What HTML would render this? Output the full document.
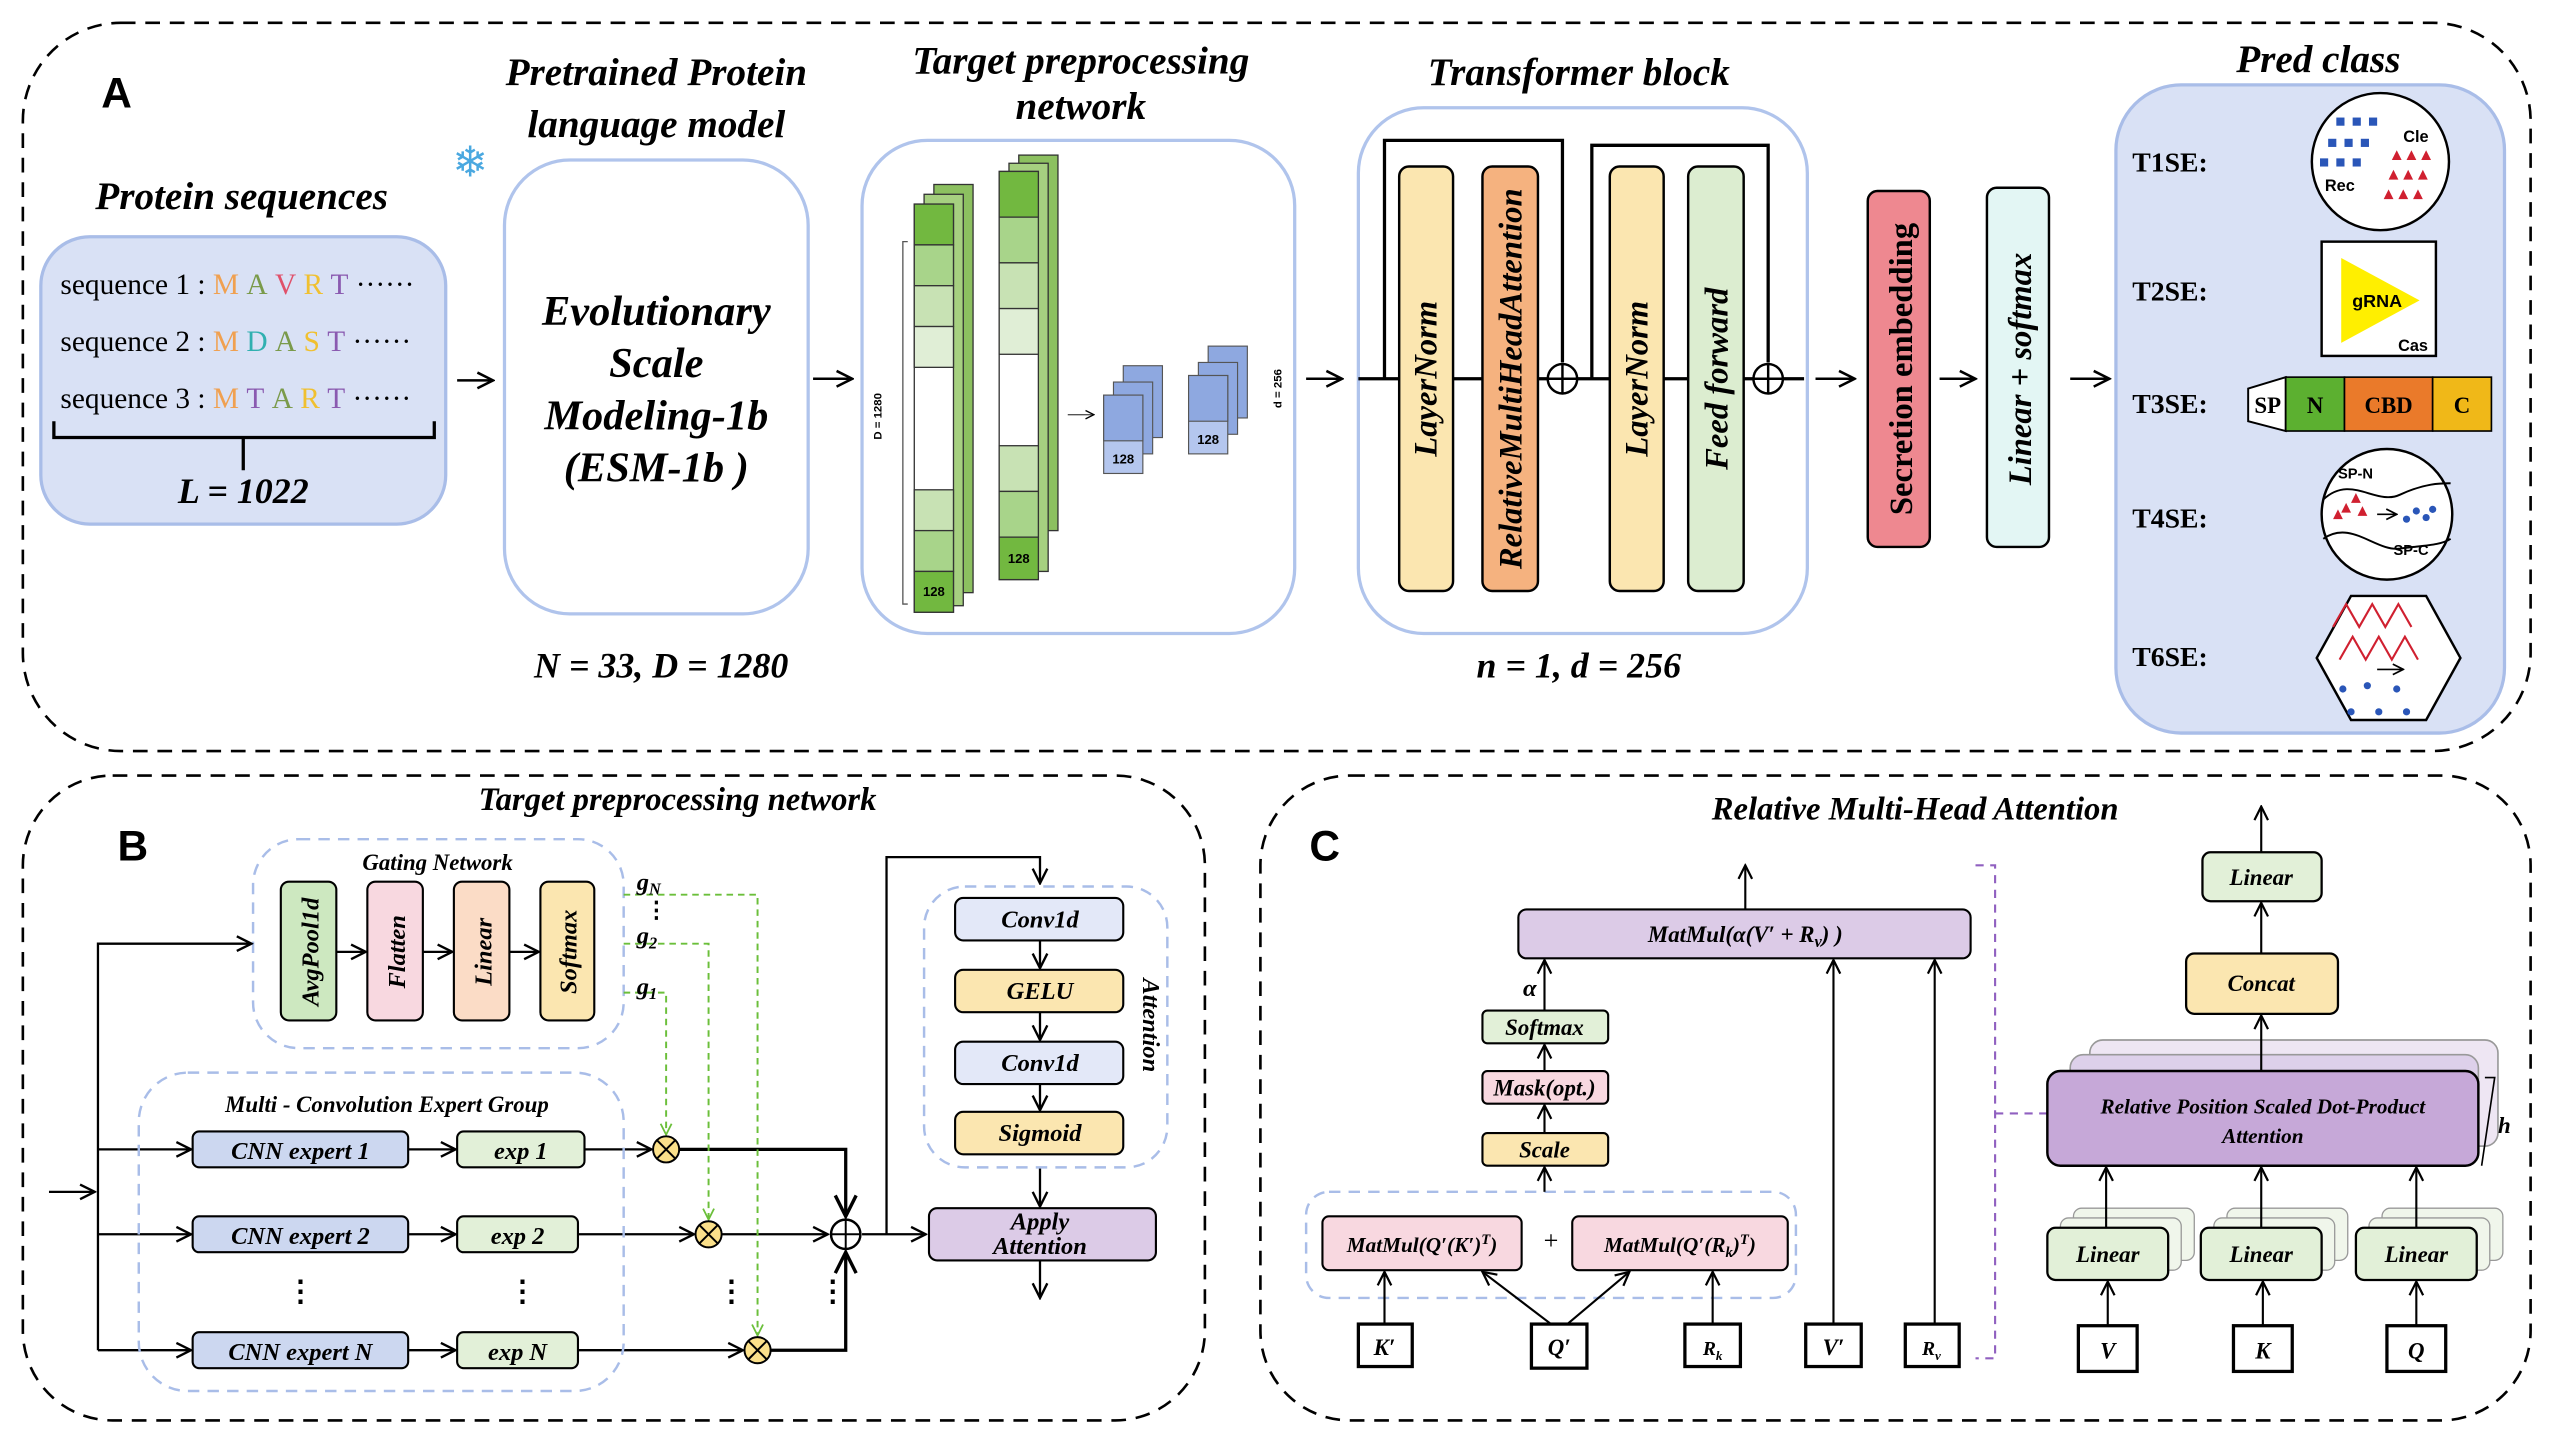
<!DOCTYPE html>
<html><head><meta charset="utf-8"><style>
html,body{margin:0;padding:0;background:#fff}
svg{display:block}
text{font-family:"Liberation Serif",serif}
.t{font-style:italic;font-weight:bold}
.s{font-family:"Liberation Sans",sans-serif}
</style></head><body>
<svg width="2560" height="1440" viewBox="0 0 1568 882" preserveAspectRatio="none" xmlns="http://www.w3.org/2000/svg">
<defs>
<marker id="ar" viewBox="0 0 10 10" refX="9" refY="5" markerWidth="8" markerHeight="8" orient="auto-start-reverse"><path d="M1,1 L9,5 L1,9" fill="none" stroke="#000" stroke-width="1.3"/></marker>
<marker id="ag" viewBox="0 0 10 10" refX="9" refY="5" markerWidth="7" markerHeight="7" orient="auto"><path d="M1,1 L9,5 L1,9" fill="none" stroke="#6bbf3a" stroke-width="1.3"/></marker>
</defs>
<g fill="none" stroke="#000" stroke-width="1.6" stroke-dasharray="9,6">
<rect x="14" y="14" width="1536" height="446" rx="60"/>
<rect x="14" y="475" width="724" height="395" rx="55"/>
<rect x="772" y="475" width="778" height="395" rx="55"/>
</g>
<!-- Panel A -->
<text x="62" y="66" class="s" font-weight="bold" font-size="26">A</text>
<text x="148" y="128" class="t" font-size="24" text-anchor="middle">Protein sequences</text>
<rect x="25" y="145" width="248" height="176" rx="30" fill="#d9e1f5" stroke="#a9bde8" stroke-width="2"/>
<g font-size="18">
<text x="37" y="180">sequence 1 : <tspan fill="#f0a050">M</tspan> <tspan fill="#7a9a4a">A</tspan> <tspan fill="#e0506a">V</tspan> <tspan fill="#f0c030">R</tspan> <tspan fill="#8a5ab0">T</tspan> ······</text>
<text x="37" y="215">sequence 2 : <tspan fill="#f0a050">M</tspan> <tspan fill="#30b0b0">D</tspan> <tspan fill="#7a9a4a">A</tspan> <tspan fill="#f0c030">S</tspan> <tspan fill="#8a5ab0">T</tspan> ······</text>
<text x="37" y="250">sequence 3 : <tspan fill="#f0a050">M</tspan> <tspan fill="#8a5ab0">T</tspan> <tspan fill="#7a9a4a">A</tspan> <tspan fill="#f0c030">R</tspan> <tspan fill="#8a5ab0">T</tspan> ······</text>
</g>
<path d="M33,258 V268 H266 V258 M149,268 V288" fill="none" stroke="#000" stroke-width="2"/>
<text x="149" y="308" class="t" font-size="22" text-anchor="middle">L = 1022</text>
<line x1="280" y1="233" x2="302" y2="233" stroke="#000" stroke-width="1.5" marker-end="url(#ar)"/>
<text x="288" y="108" font-size="26" fill="#4aa8e0" text-anchor="middle">❄</text>
<text x="402" y="52" class="t" font-size="24" text-anchor="middle">Pretrained Protein</text>
<text x="402" y="84" class="t" font-size="24" text-anchor="middle">language model</text>
<rect x="309" y="98" width="186" height="278" rx="40" fill="#fff" stroke="#b0c4ec" stroke-width="2"/>
<g class="t" font-size="26" text-anchor="middle"><text x="402" y="199">Evolutionary</text><text x="402" y="231">Scale</text><text x="402" y="263">Modeling-1b</text><text x="402" y="295">(ESM-1b )</text></g>
<text x="405" y="415" class="t" font-size="22" text-anchor="middle">N = 33, D = 1280</text>
<line x1="498" y1="232" x2="522" y2="232" stroke="#000" stroke-width="1.5" marker-end="url(#ar)"/>
<text x="662" y="45" class="t" font-size="24" text-anchor="middle">Target preprocessing</text>
<text x="662" y="73" class="t" font-size="24" text-anchor="middle">network</text>
<rect x="528" y="86" width="265" height="302" rx="40" fill="#fff" stroke="#b0c4ec" stroke-width="2"/>
<g stroke="#333" stroke-width="0.8">
<rect x="572" y="113" width="24" height="250" fill="#8cc060"/>
<rect x="566" y="119" width="24" height="252" fill="#a6d080"/>
<rect x="560" y="125" width="24" height="250" fill="#fff"/>
<rect x="560" y="125" width="24" height="25" fill="#72b840"/>
<rect x="560" y="150" width="24" height="25" fill="#a8d48a"/>
<rect x="560" y="175" width="24" height="25" fill="#c8e2b4"/>
<rect x="560" y="200" width="24" height="25" fill="#e0eed6"/>
<rect x="560" y="300" width="24" height="25" fill="#c8e2b4"/>
<rect x="560" y="325" width="24" height="25" fill="#a8d48a"/>
<rect x="560" y="350" width="24" height="25" fill="#72b840"/>
<rect x="624" y="95" width="24" height="230" fill="#8cc060"/>
<rect x="618" y="100" width="24" height="250" fill="#a6d080"/>
<rect x="612" y="105" width="24" height="250" fill="#fff"/>
<rect x="612" y="105" width="24" height="28" fill="#72b840"/>
<rect x="612" y="133" width="24" height="28" fill="#a8d48a"/>
<rect x="612" y="161" width="24" height="28" fill="#c8e2b4"/>
<rect x="612" y="189" width="24" height="28" fill="#e0eed6"/>
<rect x="612" y="273" width="24" height="28" fill="#c8e2b4"/>
<rect x="612" y="301" width="24" height="28" fill="#a8d48a"/>
<rect x="612" y="329" width="24" height="26" fill="#72b840"/>
</g>
<text x="572" y="365" class="s" font-size="8" font-weight="bold" text-anchor="middle">128</text>
<text x="624" y="345" class="s" font-size="8" font-weight="bold" text-anchor="middle">128</text>
<path d="M556,148 H553 V370 H556" fill="none" stroke="#555" stroke-width="0.8"/>
<text x="540" y="255" class="s" font-size="7" font-weight="bold" transform="rotate(-90 540 255)" text-anchor="middle">D = 1280</text>
<line x1="654" y1="254" x2="670" y2="254" stroke="#555" stroke-width="0.8" marker-end="url(#ar)"/>
<g stroke="#555" stroke-width="0.7">
<rect x="688" y="224" width="24" height="44" fill="#8ea8e0"/><rect x="682" y="234" width="24" height="44" fill="#8ea8e0"/><rect x="676" y="242" width="24" height="48" fill="#b4c6ee"/><rect x="676" y="242" width="24" height="28" fill="#8ea8e0"/>
<rect x="740" y="212" width="24" height="44" fill="#8ea8e0"/><rect x="734" y="222" width="24" height="44" fill="#8ea8e0"/><rect x="728" y="230" width="24" height="48" fill="#b4c6ee"/><rect x="728" y="230" width="24" height="28" fill="#8ea8e0"/>
</g>
<text x="688" y="284" class="s" font-size="8" font-weight="bold" text-anchor="middle">128</text>
<text x="740" y="272" class="s" font-size="8" font-weight="bold" text-anchor="middle">128</text>
<text x="785" y="238" class="s" font-size="7" font-weight="bold" transform="rotate(-90 785 238)" text-anchor="middle">d = 256</text>
<line x1="800" y1="232" x2="822" y2="232" stroke="#000" stroke-width="1.5" marker-end="url(#ar)"/>
<text x="967" y="52" class="t" font-size="24" text-anchor="middle">Transformer block</text>
<rect x="832" y="66" width="275" height="322" rx="40" fill="#fff" stroke="#b0c4ec" stroke-width="2"/>
<path d="M832,232 H1105 M848,232 V86 H957 V222 M975,232 V89 H1083 V222" fill="none" stroke="#000" stroke-width="2"/>
<g stroke="#000" stroke-width="1.5">
<rect x="857" y="102" width="33" height="260" rx="6" fill="#fbe6b0"/>
<rect x="908" y="102" width="34" height="260" rx="6" fill="#f5b27f"/>
<rect x="986" y="102" width="33" height="260" rx="6" fill="#fbe6b0"/>
<rect x="1034" y="102" width="34" height="260" rx="6" fill="#dcedd0"/>
<circle cx="957" cy="232" r="9" fill="#fff"/><path d="M948,232 H966 M957,223 V241"/>
<circle cx="1083" cy="232" r="9" fill="#fff"/><path d="M1074,232 H1092 M1083,223 V241"/>
</g>
<g class="t" font-size="20" text-anchor="middle">
<text transform="translate(880 232) rotate(-90)">LayerNorm</text>
<text transform="translate(932 232) rotate(-90)">RelativeMultiHeadAttention</text>
<text transform="translate(1009 232) rotate(-90)">LayerNorm</text>
<text transform="translate(1058 232) rotate(-90)">Feed forward</text>
</g>
<text x="967" y="415" class="t" font-size="22" text-anchor="middle">n = 1, d = 256</text>
<line x1="1112" y1="232" x2="1136" y2="232" stroke="#000" stroke-width="1.5" marker-end="url(#ar)"/>
<rect x="1144" y="117" width="38" height="218" rx="6" fill="#ee8890" stroke="#000" stroke-width="1.5"/>
<text transform="translate(1171 226) rotate(-90)" font-size="20" font-weight="bold" text-anchor="middle">Secretion embedding</text>
<line x1="1188" y1="232" x2="1210" y2="232" stroke="#000" stroke-width="1.5" marker-end="url(#ar)"/>
<rect x="1217" y="115" width="38" height="220" rx="6" fill="#e3f6f4" stroke="#000" stroke-width="1.5"/>
<text transform="translate(1244 226) rotate(-90)" class="t" font-size="20" text-anchor="middle">Linear + softmax</text>
<line x1="1268" y1="232" x2="1292" y2="232" stroke="#000" stroke-width="1.5" marker-end="url(#ar)"/>
<text x="1420" y="44" class="t" font-size="24" text-anchor="middle">Pred class</text>
<rect x="1296" y="52" width="238" height="397" rx="40" fill="#d9e1f5" stroke="#a9bde8" stroke-width="2"/>
<g font-size="17" font-weight="bold">
<text x="1306" y="105">T1SE:</text><text x="1306" y="184">T2SE:</text><text x="1306" y="253">T3SE:</text><text x="1306" y="323">T4SE:</text><text x="1306" y="408">T6SE:</text>
</g>
<circle cx="1458" cy="99" r="42" fill="#fff" stroke="#000" stroke-width="1.5"/>
<g fill="#2a56b8"><rect x="1431" y="72" width="5" height="5"/><rect x="1441" y="72" width="5" height="5"/><rect x="1451" y="72" width="5" height="5"/><rect x="1426" y="85" width="5" height="5"/><rect x="1436" y="85" width="5" height="5"/><rect x="1446" y="85" width="5" height="5"/><rect x="1421" y="97" width="5" height="5"/><rect x="1431" y="97" width="5" height="5"/><rect x="1441" y="97" width="5" height="5"/></g>
<g fill="#d02030"><path d="M1465,98 l3,-6 l3,6z M1474,98 l3,-6 l3,6z M1483,98 l3,-6 l3,6z M1463,110 l3,-6 l3,6z M1472,110 l3,-6 l3,6z M1481,110 l3,-6 l3,6z M1460,122 l3,-6 l3,6z M1469,122 l3,-6 l3,6z M1478,122 l3,-6 l3,6z"/></g>
<text x="1472" y="87" class="s" font-size="10" font-weight="bold">Cle</text><text x="1424" y="117" class="s" font-size="10" font-weight="bold">Rec</text>
<rect x="1422" y="148" width="70" height="70" fill="#fff" stroke="#000" stroke-width="1.5"/>
<path d="M1434,158 L1482,184 L1434,210 Z" fill="#ffef00"/>
<text x="1456" y="188" class="s" font-size="11" font-weight="bold" text-anchor="middle">gRNA</text>
<text x="1478" y="215" class="s" font-size="10" font-weight="bold" text-anchor="middle">Cas</text>
<path d="M1377,238 L1400,231 V264 L1377,258 Z" fill="#fff" stroke="#000" stroke-width="1.2"/>
<rect x="1400" y="231" width="36" height="33" fill="#5cb030" stroke="#000"/>
<rect x="1436" y="231" width="54" height="33" fill="#ea7a2a" stroke="#000"/>
<rect x="1490" y="231" width="36" height="33" fill="#f0b818" stroke="#000"/>
<g class="s" font-size="14" font-weight="bold" text-anchor="middle"><text x="1389" y="253">SP</text><text x="1418" y="253">N</text><text x="1463" y="253">CBD</text><text x="1508" y="253">C</text></g>
<circle cx="1462" cy="315" r="40" fill="#fff" stroke="#000" stroke-width="1.5"/>
<path d="M1423,306 C1440,290 1455,310 1470,303 C1485,296 1495,296 1501,296 M1423,330 C1440,318 1455,338 1470,336 C1485,334 1495,334 1501,330" fill="none" stroke="#000" stroke-width="1.2"/>
<text x="1432" y="293" class="s" font-size="9" font-weight="bold">SP-N</text><text x="1466" y="340" class="s" font-size="9" font-weight="bold">SP-C</text>
<path d="M1434,314 l3,-6 l3,6z M1440,308 l3,-6 l3,6z M1444,316 l3,-6 l3,6z M1429,318 l3,-6 l3,6z" fill="#d02030"/>
<line x1="1456" y1="315" x2="1468" y2="315" stroke="#000" marker-end="url(#ar)"/>
<g fill="#2a56b8"><circle cx="1474" cy="318" r="2.2"/><circle cx="1480" cy="313" r="2.2"/><circle cx="1486" cy="317" r="2.2"/><circle cx="1490" cy="312" r="2.2"/></g>
<path d="M1440,365 H1486 L1507,403 L1486,441 H1440 L1419,403 Z" fill="#fff" stroke="#000" stroke-width="1.5"/>
<path d="M1429,384 l8,-14 l8,14 l8,-14 l8,14 l8,-14 l8,14 M1433,404 l8,-14 l8,14 l8,-14 l8,14 l8,-14 l8,14" fill="none" stroke="#d02030" stroke-width="1.3"/>
<line x1="1456" y1="410" x2="1472" y2="410" stroke="#000" marker-end="url(#ar)"/>
<g fill="#2a56b8"><circle cx="1435" cy="422" r="2.2"/><circle cx="1450" cy="420" r="2.2"/><circle cx="1468" cy="422" r="2.2"/><circle cx="1440" cy="436" r="2.2"/><circle cx="1457" cy="436" r="2.2"/><circle cx="1474" cy="436" r="2.2"/></g>
<!-- Panel B -->
<text x="72" y="527" class="s" font-weight="bold" font-size="26">B</text>
<text x="415" y="496" class="t" font-size="20" text-anchor="middle">Target preprocessing network</text>
<rect x="155" y="514" width="227" height="128" rx="28" fill="none" stroke="#a9bde8" stroke-width="1.5" stroke-dasharray="7,5"/>
<text x="268" y="533" class="t" font-size="14" text-anchor="middle">Gating Network</text>
<g stroke="#000" stroke-width="1.3">
<rect x="172" y="540" width="34" height="85" rx="5" fill="#cde8c0"/>
<rect x="225" y="540" width="34" height="85" rx="5" fill="#f8d8e0"/>
<rect x="278" y="540" width="34" height="85" rx="5" fill="#fbdcc6"/>
<rect x="331" y="540" width="33" height="85" rx="5" fill="#fbe6b0"/>
</g>
<g class="t" font-size="15" text-anchor="middle">
<text transform="translate(195 583) rotate(-90)">AvgPool1d</text>
<text transform="translate(248 583) rotate(-90)">Flatten</text>
<text transform="translate(301 583) rotate(-90)">Linear</text>
<text transform="translate(353 583) rotate(-90)">Softmax</text>
</g>
<g stroke="#000" stroke-width="1.4" fill="none">
<line x1="206" y1="583" x2="224" y2="583" marker-end="url(#ar)"/>
<line x1="259" y1="583" x2="277" y2="583" marker-end="url(#ar)"/>
<line x1="312" y1="583" x2="330" y2="583" marker-end="url(#ar)"/>
<line x1="30" y1="730" x2="58" y2="730" marker-end="url(#ar)"/>
<path d="M60,827 V578 H154" marker-end="url(#ar)"/>
<line x1="60" y1="704" x2="117" y2="704" marker-end="url(#ar)"/>
<line x1="60" y1="756" x2="117" y2="756" marker-end="url(#ar)"/>
<line x1="60" y1="827" x2="117" y2="827" marker-end="url(#ar)"/>
<line x1="250" y1="704" x2="279" y2="704" marker-end="url(#ar)"/>
<line x1="250" y1="756" x2="279" y2="756" marker-end="url(#ar)"/>
<line x1="250" y1="827" x2="279" y2="827" marker-end="url(#ar)"/>
<line x1="358" y1="704" x2="399" y2="704" marker-end="url(#ar)"/>
<line x1="354" y1="756" x2="425" y2="756" marker-end="url(#ar)"/>
<line x1="354" y1="827" x2="455" y2="827" marker-end="url(#ar)"/>
<path d="M416,704 H518 V745" stroke-width="2" marker-end="url(#ar)"/>
<line x1="442" y1="756" x2="507" y2="756" marker-end="url(#ar)"/>
<path d="M472,827 H518 V767" stroke-width="2" marker-end="url(#ar)"/>
<line x1="528" y1="756" x2="567" y2="756" marker-end="url(#ar)"/>
<path d="M543,756 V525 H637 V541" marker-end="url(#ar)"/>
<line x1="637" y1="576" x2="637" y2="593" marker-end="url(#ar)"/>
<line x1="637" y1="620" x2="637" y2="637" marker-end="url(#ar)"/>
<line x1="637" y1="664" x2="637" y2="680" marker-end="url(#ar)"/>
<line x1="637" y1="715" x2="637" y2="739" marker-end="url(#ar)"/>
<line x1="637" y1="772" x2="637" y2="795" marker-end="url(#ar)"/>
</g>
<g fill="none" stroke="#6bbf3a" stroke-width="1.2" stroke-dasharray="4,3">
<path d="M382,608 H408 V695" marker-end="url(#ag)"/>
<path d="M382,578 H434 V747" marker-end="url(#ag)"/>
<path d="M382,548 H464 V818" marker-end="url(#ag)"/>
</g>
<g class="t" font-size="15"><text x="390" y="545">g<tspan font-size="10" dy="3">N</tspan></text><text x="390" y="578">g<tspan font-size="10" dy="3">2</tspan></text><text x="390" y="609">g<tspan font-size="10" dy="3">1</tspan></text></g>
<text x="395" y="562" font-size="14" font-weight="bold">⋮</text>
<rect x="85" y="657" width="297" height="195" rx="30" fill="none" stroke="#a9bde8" stroke-width="1.5" stroke-dasharray="7,5"/>
<text x="237" y="681" class="t" font-size="14" text-anchor="middle">Multi - Convolution Expert  Group</text>
<g stroke="#000" stroke-width="1.3">
<rect x="118" y="693" width="132" height="22" rx="4" fill="#ccd7f0"/><rect x="118" y="745" width="132" height="22" rx="4" fill="#ccd7f0"/><rect x="118" y="816" width="132" height="22" rx="4" fill="#ccd7f0"/>
<rect x="280" y="693" width="78" height="22" rx="4" fill="#e2f0d8"/><rect x="280" y="745" width="74" height="22" rx="4" fill="#e2f0d8"/><rect x="280" y="816" width="74" height="22" rx="4" fill="#e2f0d8"/>
</g>
<g class="t" font-size="15" text-anchor="middle">
<text x="184" y="710">CNN expert 1</text><text x="184" y="762">CNN expert 2</text><text x="184" y="833">CNN expert N</text>
<text x="319" y="710">exp 1</text><text x="317" y="762">exp 2</text><text x="317" y="833">exp N</text>
</g>
<g font-size="18" font-weight="bold" text-anchor="middle"><text x="184" y="797">⋮</text><text x="320" y="797">⋮</text><text x="448" y="797">⋮</text><text x="510" y="797">⋮</text></g>
<g stroke="#000" stroke-width="1.2">
<circle cx="408" cy="704" r="8" fill="#fbe08a"/><path d="M402,698 L414,710 M414,698 L402,710"/>
<circle cx="434" cy="756" r="8" fill="#fbe08a"/><path d="M428,750 L440,762 M440,750 L428,762"/>
<circle cx="464" cy="827" r="8" fill="#fbe08a"/><path d="M458,821 L470,833 M470,821 L458,833"/>
<circle cx="518" cy="756" r="9" fill="#fff" stroke-width="1.5"/><path d="M509,756 H527 M518,747 V765"/>
</g>
<rect x="566" y="543" width="149" height="172" rx="25" fill="none" stroke="#a9bde8" stroke-width="1.5" stroke-dasharray="7,5"/>
<g stroke="#000" stroke-width="1.3">
<rect x="585" y="550" width="103" height="26" rx="5" fill="#e3e8f8"/>
<rect x="585" y="594" width="103" height="26" rx="5" fill="#fbe6b0"/>
<rect x="585" y="638" width="103" height="26" rx="5" fill="#e3e8f8"/>
<rect x="585" y="681" width="103" height="26" rx="5" fill="#fbe6b0"/>
<rect x="569" y="740" width="139" height="32" rx="5" fill="#dccbe7"/>
</g>
<g class="t" font-size="15" text-anchor="middle">
<text x="637" y="568">Conv1d</text><text x="637" y="612">GELU</text><text x="637" y="656">Conv1d</text><text x="637" y="699">Sigmoid</text>
<text x="637" y="753">Apply</text><text x="637" y="768">Attention</text>
<text transform="translate(700 628) rotate(90)">Attention</text>
</g>
<!-- Panel C -->
<text x="802" y="527" class="s" font-weight="bold" font-size="26">C</text>
<text x="1173" y="502" class="t" font-size="20" text-anchor="middle">Relative Multi-Head Attention</text>
<rect x="800" y="730" width="300" height="65" rx="14" fill="none" stroke="#a9bde8" stroke-width="1.5" stroke-dasharray="7,5"/>
<g stroke="#000" stroke-width="1.3">
<rect x="930" y="557" width="277" height="30" rx="5" fill="#dccbe7"/>
<rect x="908" y="619" width="77" height="20" rx="3" fill="#e2f0d8"/>
<rect x="908" y="656" width="77" height="20" rx="3" fill="#f8d8e0"/>
<rect x="908" y="694" width="77" height="20" rx="3" fill="#fbe6b0"/>
<rect x="810" y="745" width="122" height="33" rx="4" fill="#f8d8e0"/>
<rect x="963" y="745" width="132" height="33" rx="4" fill="#f8d8e0"/>
</g>
<g stroke="#000" stroke-width="2" fill="#fff">
<rect x="832" y="811" width="33" height="26"/><rect x="938" y="811" width="34" height="27"/><rect x="1032" y="811" width="34" height="26"/><rect x="1106" y="811" width="34" height="26"/><rect x="1167" y="811" width="33" height="26"/>
<rect x="1273" y="812" width="36" height="28"/><rect x="1368" y="812" width="36" height="28"/><rect x="1462" y="812" width="36" height="28"/>
</g>
<g class="t" font-size="14" text-anchor="middle">
<text x="1069" y="577">MatMul(α(V′ + R<tspan font-size="10" dy="3">v</tspan><tspan dy="-3">) )</tspan></text>
<text x="946" y="634">Softmax</text><text x="946" y="671">Mask(opt.)</text><text x="946" y="709">Scale</text>
<text x="871" y="767" font-size="13">MatMul(Q′(K′)<tspan font-size="9" dy="-5">T</tspan><tspan dy="5">)</tspan></text>
<text x="1029" y="767" font-size="13">MatMul(Q′(R<tspan font-size="9" dy="3">k</tspan><tspan dy="-3">)</tspan><tspan font-size="9" dy="-5">T</tspan><tspan dy="5">)</tspan></text>
<text x="848" y="830">K′</text><text x="955" y="830">Q′</text><text x="1049" y="830" font-size="12">R<tspan font-size="8" dy="3">k</tspan></text><text x="1123" y="830">V′</text><text x="1183" y="830" font-size="12">R<tspan font-size="8" dy="3">v</tspan></text>
<text x="1291" y="832">V</text><text x="1386" y="832">K</text><text x="1480" y="832">Q</text>
<text x="937" y="610" font-size="15">α</text>
</g>
<text x="950" y="765" font-size="16" text-anchor="middle">+</text>
<g stroke="#000" stroke-width="1.3" fill="none">
<line x1="1069" y1="557" x2="1069" y2="530" marker-end="url(#ar)"/>
<line x1="946" y1="619" x2="946" y2="588" marker-end="url(#ar)"/>
<line x1="946" y1="656" x2="946" y2="640" marker-end="url(#ar)"/>
<line x1="946" y1="694" x2="946" y2="677" marker-end="url(#ar)"/>
<line x1="946" y1="730" x2="946" y2="715" marker-end="url(#ar)"/>
<line x1="848" y1="811" x2="848" y2="779" marker-end="url(#ar)"/>
<line x1="950" y1="811" x2="908" y2="779" marker-end="url(#ar)"/>
<line x1="960" y1="811" x2="998" y2="779" marker-end="url(#ar)"/>
<line x1="1049" y1="811" x2="1049" y2="779" marker-end="url(#ar)"/>
<line x1="1123" y1="811" x2="1123" y2="588" marker-end="url(#ar)"/>
<line x1="1185" y1="811" x2="1185" y2="588" marker-end="url(#ar)"/>
</g>
<path d="M1210,530 H1222 V832 H1210 M1222,682 H1255" fill="none" stroke="#9060c0" stroke-width="1.3" stroke-dasharray="5,4"/>
<g stroke="#999" stroke-width="1">
<rect x="1280" y="637" width="250" height="65" rx="8" fill="#eee6f3"/>
<rect x="1268" y="646" width="250" height="66" rx="8" fill="#ddd0ea"/>
</g>
<rect x="1254" y="656" width="264" height="58" rx="8" fill="#c6a8d8" stroke="#000" stroke-width="1.5"/>
<text x="1386" y="682" class="t" font-size="13" text-anchor="middle">Relative Position Scaled Dot-Product</text>
<text x="1386" y="700" class="t" font-size="13" text-anchor="middle">Attention</text>
<path d="M1522,660 L1528,660 L1520,714" fill="none" stroke="#000" stroke-width="1"/>
<text x="1530" y="694" class="t" font-size="14">h</text>
<g stroke="#999" stroke-width="0.8" fill="#f0f6eb">
<rect x="1270" y="740" width="74" height="32" rx="5"/><rect x="1262" y="746" width="74" height="32" rx="5"/>
<rect x="1364" y="740" width="74" height="32" rx="5"/><rect x="1356" y="746" width="74" height="32" rx="5"/>
<rect x="1459" y="740" width="74" height="32" rx="5"/><rect x="1451" y="746" width="74" height="32" rx="5"/>
</g>
<g stroke="#000" stroke-width="1.4">
<rect x="1254" y="752" width="74" height="32" rx="5" fill="#e2f0d8"/>
<rect x="1348" y="752" width="74" height="32" rx="5" fill="#e2f0d8"/>
<rect x="1443" y="752" width="74" height="32" rx="5" fill="#e2f0d8"/>
<rect x="1349" y="522" width="73" height="30" rx="5" fill="#e2f0d8"/>
<rect x="1339" y="584" width="93" height="37" rx="5" fill="#fbe6b0"/>
</g>
<g class="t" font-size="14" text-anchor="middle">
<text x="1291" y="773">Linear</text><text x="1385" y="773">Linear</text><text x="1480" y="773">Linear</text>
<text x="1385" y="542">Linear</text><text x="1385" y="607">Concat</text>
</g>
<g stroke="#000" stroke-width="1.3" fill="none">
<line x1="1385" y1="522" x2="1385" y2="494" marker-end="url(#ar)"/>
<line x1="1385" y1="584" x2="1385" y2="553" marker-end="url(#ar)"/>
<line x1="1385" y1="656" x2="1385" y2="622" marker-end="url(#ar)"/>
<line x1="1290" y1="752" x2="1290" y2="715" marker-end="url(#ar)"/>
<line x1="1385" y1="752" x2="1385" y2="715" marker-end="url(#ar)"/>
<line x1="1480" y1="752" x2="1480" y2="715" marker-end="url(#ar)"/>
<line x1="1291" y1="812" x2="1291" y2="785" marker-end="url(#ar)"/>
<line x1="1386" y1="812" x2="1386" y2="785" marker-end="url(#ar)"/>
<line x1="1480" y1="812" x2="1480" y2="785" marker-end="url(#ar)"/>
</g>
</svg>
</body></html>
